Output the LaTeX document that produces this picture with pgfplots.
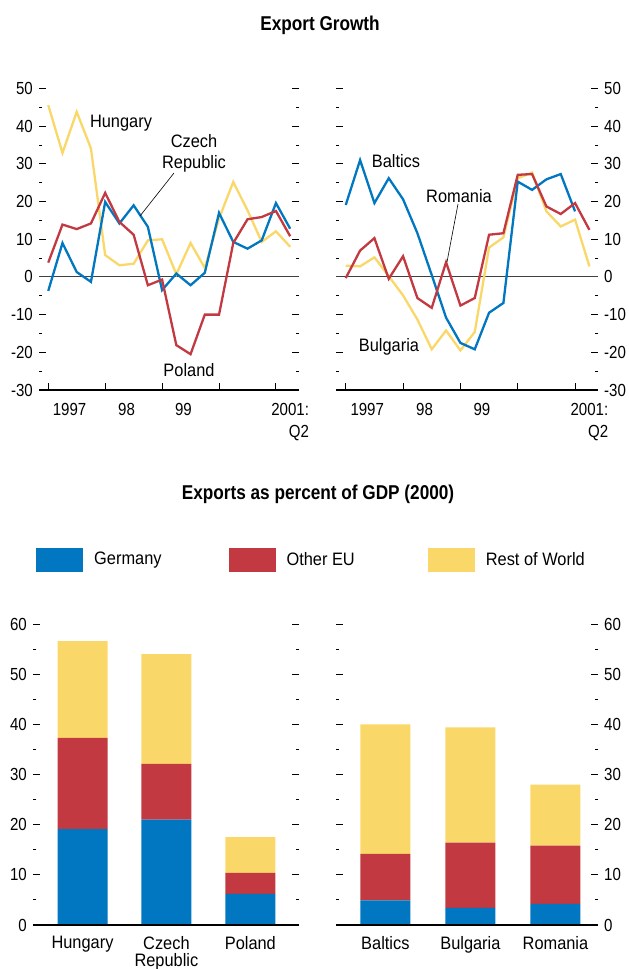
\documentclass[border=0pt]{standalone}
\usepackage{fontspec}
\setmainfont{Liberation Sans}[FakeStretch=0.91]
\newfontfamily\numfont{Liberation Sans}[FakeStretch=0.86]
\newfontfamily\titlefont{Liberation Sans}[FakeStretch=0.86]
\usepackage{pgfplots}
\pgfplotsset{compat=1.18}
\definecolor{cblue}{RGB}{0,119,192}
\definecolor{cred}{RGB}{194,57,65}
\definecolor{cyellow}{RGB}{250,215,105}
\pgfplotsset{
  common/.style={
    scale only axis,
    axis line style={draw=none},
    major tick length=7pt, minor tick length=3pt,
    every tick/.style={black, line width=1pt},
    /pgf/number format/assume math mode=true,
    tick label style={font=\numfont\fontsize{17.5}{22}\selectfont},
    clip=false,
  },
  lineax/.style={
    common,
    height=301.5pt,
    ymin=-30, ymax=50, ytick={-30,-20,...,50}, minor y tick num=1,
    xtick={0,4,8,12,16}, xticklabels={},
    xtick pos=left,
    extra x ticks={1.5,5.5,9.5,17},
    extra x tick labels={1997,98,99,{2001:\\Q2}},
    extra x tick style={major tick length=0pt, tick label style={align=right, yshift=-7pt}},
  },
  barax/.style={
    common,
    height=301pt,
    ymin=0, ymax=60, ytick={0,10,...,60}, minor y tick num=1,
    xtick={0,1,2}, xtick style={draw=none}, xtick pos=left,
    xticklabel style={align=center, yshift=-5pt, font=\fontsize{18}{17.5}\selectfont},
    ybar stacked, bar width=50pt,
  },
}
\begin{document}
\fontsize{18}{21}\selectfont
\begin{tikzpicture}
\path[use as bounding box] (0pt,0pt) rectangle (629pt,-969pt);

\node[font=\titlefont\fontsize{20}{24}\selectfont\bfseries] at (320pt,-25pt) {Export Growth};
\node[font=\titlefont\fontsize{20}{24}\selectfont\bfseries] at (318pt,-494pt) {Exports as percent of GDP (2000)};

% ---------- left line panel ----------
\begin{axis}[lineax, at={(39pt,-390pt)}, anchor=south west, width=260pt,
  xmin=-0.65, xmax=17.62, ytick pos=both, yticklabel pos=left]
\draw[black!75, line width=0.9pt] (rel axis cs:0,0.375) -- (rel axis cs:1,0.375);
\draw[black, line width=1.2pt] (rel axis cs:0,0) -- (rel axis cs:1,0);
\addplot[cyellow, line width=2.3pt] coordinates {
(0,45.6) (1,32.9) (2,43.8) (3,34.1) (4,5.8) (5,3.1) (6,3.5) (7,9.7) (8,10.0)
(9,0.7) (10,9.0) (11,2.4) (12,15.5) (13,25.2) (14,17.7) (15,9.3) (16,12.1) (17,8.0)};
\addplot[cblue, line width=2.3pt] coordinates {
(0,-3.7) (1,9.0) (2,1.3) (3,-1.3) (4,19.9) (5,14.2) (6,19.0) (7,13.3) (8,-3.5)
(9,0.9) (10,-2.2) (11,1.1) (12,17.0) (13,9.3) (14,7.5) (15,9.7) (16,19.6) (17,12.8)};
\addplot[cred, line width=2.3pt] coordinates {
(0,3.8) (1,13.9) (2,12.7) (3,14.2) (4,22.3) (5,14.6) (6,11.2) (7,-2.2) (8,-0.7)
(9,-18.1) (10,-20.5) (11,-10.0) (12,-10.0) (13,9.0) (14,15.3) (15,15.9) (16,17.5) (17,10.8)};
\end{axis}

% ---------- right line panel ----------
\begin{axis}[lineax, at={(336pt,-390pt)}, anchor=south west, width=262pt,
  xmin=-0.68, xmax=17.6, yticklabel pos=right, ytick pos=both]
\draw[black!75, line width=0.9pt] (rel axis cs:0,0.375) -- (rel axis cs:1,0.375);
\draw[black, line width=1.2pt] (rel axis cs:0,0) -- (rel axis cs:1,0);
\addplot[cyellow, line width=2.3pt] coordinates {
(0,3.0) (1,2.8) (2,5.2) (3,0.2) (4,-4.9) (5,-11.3) (6,-19.2) (7,-14.2) (8,-19.5)
(9,-14.6) (10,7.8) (11,10.5) (12,26.2) (13,27.7) (14,17.4) (15,13.4) (16,15.2) (17,2.8)};
\addplot[cblue, line width=2.3pt] coordinates {
(0,19.1) (1,31.0) (2,19.6) (3,26.2) (4,20.6) (5,11.6) (6,0.5) (7,-10.8) (8,-17.5)
(9,-19.2) (10,-9.5) (11,-6.9) (12,25.3) (13,23.1) (14,25.9) (15,27.3) (16,17.4)};
\addplot[cred, line width=2.3pt] coordinates {
(0,-0.3) (1,7.0) (2,10.3) (3,-0.5) (4,5.5) (5,-5.6) (6,-8.2) (7,3.9) (8,-7.6)
(9,-5.6) (10,11.2) (11,11.6) (12,27.1) (13,27.3) (14,18.7) (15,16.7) (16,19.6) (17,12.5)};
\end{axis}

% annotations
\node at (121pt,-123pt) {Hungary};
\node[align=center] at (194pt,-153pt) {Czech\\Republic};
\draw[black, line width=0.6pt] (174pt,-173pt) -- (140pt,-216pt);
\node at (189pt,-370pt) {Poland};
\node at (396pt,-161pt) {Baltics};
\node at (459pt,-196pt) {Romania};
\draw[black, line width=0.6pt] (458pt,-204pt) -- (447pt,-262pt);
\node at (389pt,-347pt) {Bulgaria};

% ---------- left bar panel ----------
\begin{axis}[barax, at={(33pt,-925pt)}, anchor=south west, width=266pt,
  xmin=-0.59, xmax=2.58, ytick pos=both,
  xticklabels={Hungary,{Czech\\Republic},Poland},
  legend columns=3,
  legend style={at={(0.0113,1.2126)}, anchor=west, draw=none, fill=none,
    inner sep=0pt, font=\fontsize{18}{22}\selectfont,
    /tikz/every odd column/.append style={column sep=9pt},
    /tikz/every even column/.append style={column sep=65pt}},
  legend image code/.code={\fill[#1] (0pt,-12pt) rectangle (47pt,12pt);},
]
\draw[black, line width=1.3pt] (rel axis cs:0,0) -- (rel axis cs:1,0);
\addplot[fill=cblue, draw=none] coordinates {(0,19.1) (1,21.0) (2,6.2)};
\addplot[fill=cred, draw=none] coordinates {(0,18.2) (1,11.1) (2,4.2)};
\addplot[fill=cyellow, draw=none] coordinates {(0,19.3) (1,21.9) (2,7.1)};
\legend{Germany, \mbox{Other EU\kern6pt}, Rest of World}
\end{axis}

% ---------- right bar panel ----------
\begin{axis}[barax, at={(336pt,-925pt)}, anchor=south west, width=262pt,
  xmin=-0.58, xmax=2.5, yticklabel pos=right, ytick pos=both,
  xticklabels={Baltics,Bulgaria,Romania}]
\draw[black, line width=1.3pt] (rel axis cs:0,0) -- (rel axis cs:1,0);
\addplot[fill=cblue, draw=none] coordinates {(0,4.9) (1,3.4) (2,4.2)};
\addplot[fill=cred, draw=none] coordinates {(0,9.3) (1,13.0) (2,11.6)};
\addplot[fill=cyellow, draw=none] coordinates {(0,25.8) (1,23.0) (2,12.2)};
\end{axis}
\end{tikzpicture}
\end{document}
